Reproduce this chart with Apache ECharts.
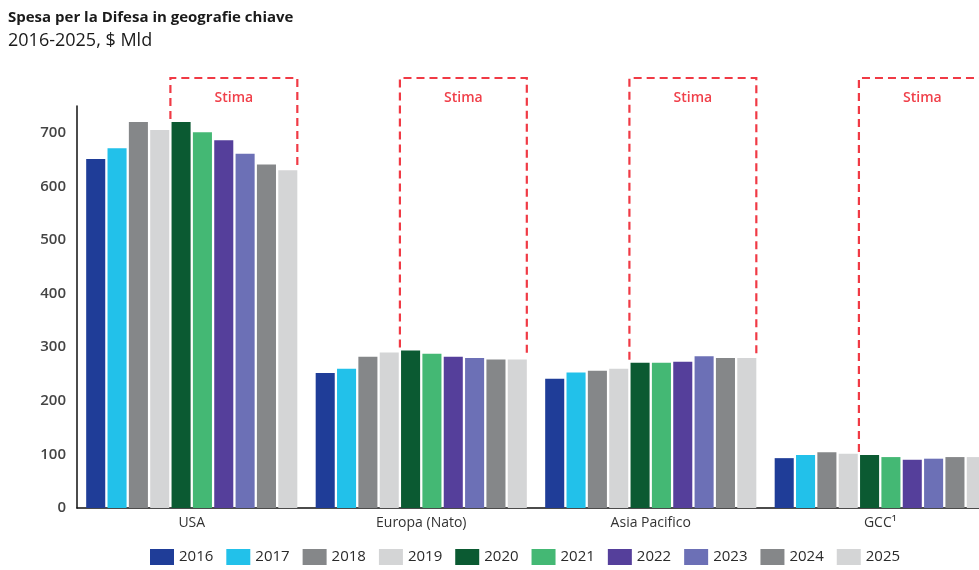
<!DOCTYPE html>
<html>
<head>
<meta charset="utf-8">
<title>Spesa per la Difesa in geografie chiave</title>
<script src="https://cdn.jsdelivr.net/npm/echarts@6/dist/echarts.min.js"></script>
<style>
  html, body { margin: 0; padding: 0; background: #ffffff; }
  #chart { width: 979px; height: 570px; }
</style>
</head>
<body>
<div id="chart"></div>
<script>
// Regions on the x axis
const regions = ['USA', 'Europa (Nato)', 'Asia Pacifico', 'GCC\u00B9'];
// One bar per year inside each region
const years = ['2016', '2017', '2018', '2019', '2020', '2021', '2022', '2023', '2024', '2025'];
// Defence spending, $ bn, 2016 → 2025
const usa    = [651, 671, 720, 705, 720, 701, 686, 661, 641, 630];
const europa = [252, 260, 282, 290, 294, 288, 282, 280, 277, 277];
const asia   = [241, 253, 256, 260, 271, 271, 273, 283, 280, 280];
const gcc    = [93, 99, 104, 101, 99, 95, 90, 92, 95, 95];
// Estimated years start here (first year inside the "Stima" box)
const firstEstimate = '2020';
const yTicks = [0, 100, 200, 300, 400, 500, 600, 700];

const yearColors = ['#1f3d98', '#22c1ea', '#858789', '#d4d5d6', '#0b5a32',
                    '#44b874', '#553f9b', '#6c70b6', '#858789', '#d4d5d6'];
const FONT = '"Open Sans", Lato, sans-serif';
const Y_MAX = 750;
const CAT_GAP = 0.08;
const BAR_GAP = 0.12;

const byRegion = [usa, europa, asia, gcc];

const barSeries = years.map((y, i) => ({
  name: y,
  type: 'bar',
  barCategoryGap: (CAT_GAP * 100) + '%',
  barGap: (BAR_GAP * 100) + '%',
  itemStyle: { color: yearColors[i] },
  data: byRegion.map(r => r[i])
}));

// Dashed "Stima" bracket over the estimated years of each region
const estIdx = years.indexOf(firstEstimate);
const lastIdx = years.length - 1;
const stimaData = byRegion.map((r, c) => [c, r[estIdx], r[lastIdx]]);

function renderStima(params, api) {
  const cat = api.value(0);
  const center = api.coord([cat, 0]);
  const band = api.size([1, 0])[0];
  const n = years.length;
  const avail = band * (1 - CAT_GAP);
  const bw = avail / (n + (n - 1) * BAR_GAP);
  const gap = bw * BAR_GAP;
  const start = center[0] - avail / 2;
  const xl = start + estIdx * (bw + gap) - gap / 2;
  const xr = start + avail;
  const top = api.coord([cat, Y_MAX])[1] - 28;
  const yl = api.coord([cat, api.value(1)])[1] - 3;
  const yr = api.coord([cat, api.value(2)])[1] - 2;
  const lineStyle = { stroke: '#f03a45', lineWidth: 2.2, lineDash: [8, 5], fill: null };
  return {
    type: 'group',
    children: [
      { type: 'polyline', shape: { points: [[xl, yl], [xl, top], [xr, top], [xr, yr]] }, style: lineStyle },
      { type: 'text', x: (xl + xr) / 2, y: top + 20,
        style: { text: 'Stima', fill: '#f0404a', font: '600 14px ' + FONT, align: 'center', verticalAlign: 'middle' } }
    ]
  };
}

const chart = echarts.init(document.getElementById('chart'), null, { renderer: 'canvas' });
chart.setOption({
  animation: false,
  backgroundColor: '#ffffff',
  title: [
    { text: 'Spesa per la Difesa in geografie chiave', left: 8, top: 10, padding: 0,
      textStyle: { fontFamily: FONT, fontSize: 15, fontWeight: 'bold', color: '#1a1a1a' } },
    { text: '2016-2025, $ Mld', left: 8, top: 32, padding: 0,
      textStyle: { fontFamily: FONT, fontSize: 18, fontWeight: 'normal', color: '#1a1a1a' } }
  ],
  legend: {
    data: years,
    left: 150,
    top: 549,
    padding: 0,
    itemWidth: 24,
    itemHeight: 16,
    itemGap: 13,
    icon: 'rect',
    textStyle: { fontFamily: FONT, fontSize: 15, color: '#2a2a2a' }
  },
  grid: { left: 77, top: 106, right: -16, bottom: 62, outerBoundsMode: 'none', containLabel: false },
  xAxis: {
    type: 'category',
    data: regions,
    axisLine: { lineStyle: { color: '#111111', width: 1.5 } },
    axisTick: { show: false },
    axisLabel: { fontFamily: FONT, fontSize: 14, color: '#333333', margin: 8 }
  },
  yAxis: {
    type: 'value',
    min: yTicks[0],
    max: Y_MAX,
    interval: yTicks[1] - yTicks[0],
    splitLine: { show: false },
    axisLine: { show: true, lineStyle: { color: '#111111', width: 1.5 } },
    axisTick: { show: false },
    axisLabel: { fontFamily: FONT, fontSize: 15, fontWeight: 600, color: '#444444', margin: 11, showMaxLabel: false }
  },
  series: barSeries.concat([{
    name: 'Stima',
    type: 'custom',
    renderItem: renderStima,
    clip: false,
    silent: true,
    encode: { x: 0, y: 1 },
    data: stimaData,
    z: 5
  }])
});
</script>
</body>
</html>
